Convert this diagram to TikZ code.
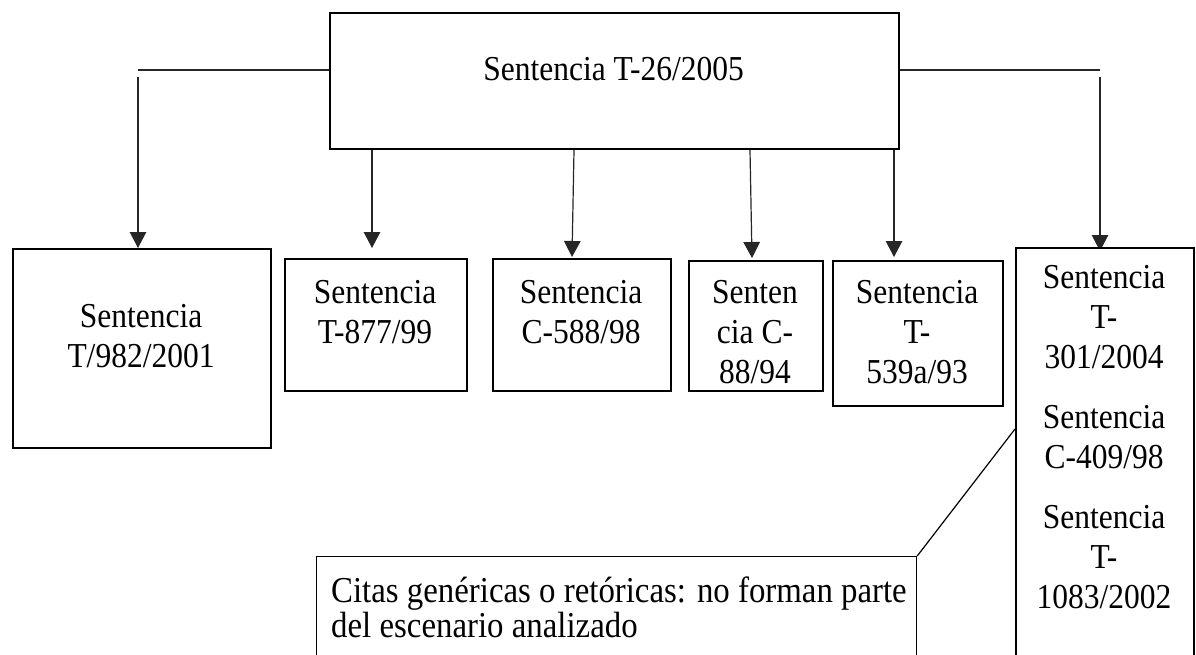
\documentclass[tikz,border=0pt]{standalone}
\usepackage{fontspec}
\setmainfont{Liberation Serif}[FakeStretch=0.9]
\usetikzlibrary{arrows.meta,backgrounds}
\newcommand{\mytopstrut}{\rule{0pt}{30pt}}
\begin{document}
\begin{tikzpicture}[x=1pt,y=-1pt,
  boxst/.style={draw=black,line width=2pt,fill=white,rectangle,inner sep=0pt,anchor=north west},
  callst/.style={draw=black,line width=1.2pt,fill=white,rectangle,inner sep=0pt,anchor=north west},
  txt/.style={inner sep=0pt,anchor=north,align=center,font=\fontsize{35}{40}\selectfont},
  ctxt/.style={inner sep=0pt,anchor=north west,align=left,font=\fontsize{36.5}{35}\selectfont},
  conn/.style={line width=1.2pt,draw=black!85},
  arr/.style={conn,-{Triangle[width=16.5pt,length=16pt]}}
]
\useasboundingbox (0,0) rectangle (1196,654);
\clip (0,0) rectangle (1196,654);

% boxes
\node[boxst,minimum width=569pt,minimum height=136pt] (top) at (329,12) {};
\node[boxst,minimum width=258pt,minimum height=199pt] (b1) at (12,248) {};
\node[boxst,minimum width=182pt,minimum height=132pt] (b2) at (284,258) {};
\node[boxst,minimum width=178pt,minimum height=132pt] (b3) at (492,258) {};
\node[boxst,minimum width=134pt,minimum height=130pt] (b4) at (688,260) {};
\node[boxst,minimum width=170pt,minimum height=145pt] (b5) at (832,260) {};
\node[boxst,minimum width=178pt,minimum height=450pt] (b6) at (1015,247) {};
\node[callst,minimum width=600pt,minimum height=150pt] (cal) at (316,556) {};

% texts
\node[txt] (t0) at (613.5,50) {\mytopstrut Sentencia T-26/2005};
\node[txt] (t1) at (141,297) {\mytopstrut Sentencia\\T/982/2001};
\node[txt] (t2) at (375,273) {\mytopstrut Sentencia\\T-877/99};
\node[txt] (t3) at (581,273) {\mytopstrut Sentencia\\C-588/98};
\node[txt] (t4) at (755,273) {\mytopstrut Senten\\cia C-\\88/94};
\node[txt] (t5) at (917,273) {\mytopstrut Sentencia\\T-\\539a/93};
\node[txt] (t6) at (1104,258) {\mytopstrut Sentencia\\T-\\301/2004\\[20pt]Sentencia\\C-409/98\\[20pt]Sentencia\\T-\\1083/2002};
\node[ctxt] (tc) at (331,572) {\mytopstrut Citas genéricas o retóricas: no forman parte\\del escenario analizado};

% connectors
\begin{scope}[on background layer]
  \coordinate (lh) at (138,70);
  \coordinate (lv) at (138,77);
  \coordinate (rh) at (1100,70);
  \coordinate (rv) at (1100,77);
  \coordinate (a2) at (372,248);
  \coordinate (a3) at (572,257);
  \coordinate (a4) at (752,258);
  \coordinate (a5) at (894,257);
  \coordinate (cl) at (1015,429);
  \draw[conn] (top.west |- lh) -- (lh);
  \draw[arr] (lv) -- (lv |- b1.north);
  \draw[conn] (top.east |- rh) -- (rh);
  \draw[arr,shorten >=-4pt] (rv) -- (rv |- b6.north);
  \draw[arr] (top.south -| a2) -- (a2);
  \draw[arr] ([xshift=2pt]top.south -| a3) -- (a3);
  \draw[arr] ([xshift=-2pt]top.south -| a4) -- (a4);
  \draw[arr] (top.south -| a5) -- (a5);
  \draw[line width=1.2pt,draw=black] (cal.north east) -- (b6.west |- cl);
\end{scope}
\end{tikzpicture}
\end{document}
